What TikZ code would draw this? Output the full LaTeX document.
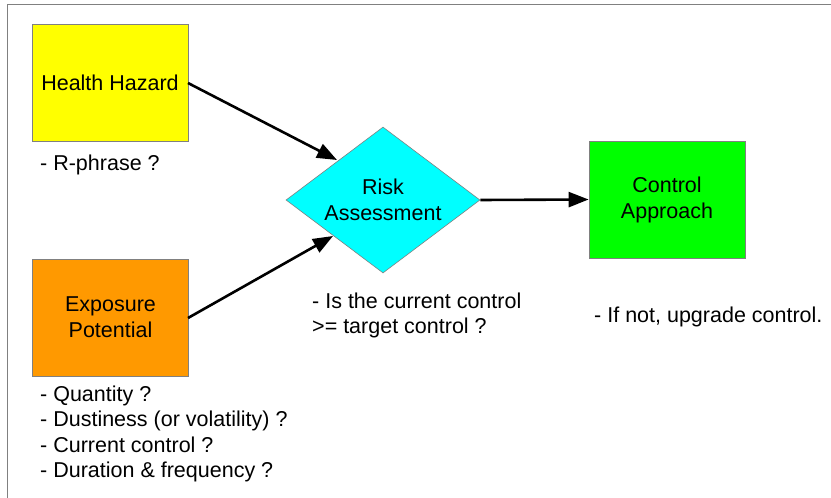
\documentclass[tikz,border=0pt]{standalone}
\usepackage{fontspec}
\setmainfont{Liberation Sans}
\usetikzlibrary{arrows.meta,shapes.geometric}
\definecolor{hzyellow}{HTML}{FFFF00}
\definecolor{exorange}{HTML}{FF9900}
\definecolor{rkcyan}{HTML}{00FFFF}
\definecolor{ctgreen}{HTML}{00FF00}
\definecolor{edgegray}{HTML}{808080}
\begin{document}
\begin{tikzpicture}[x=1pt,y=-1pt,
  boxstyle/.style={draw=edgegray,line width=0.8pt,minimum width=156pt,minimum height=117pt,inner sep=0pt,align=center,font=\fontsize{21.5}{26}\selectfont},
  notestyle/.style={anchor=west,align=left,inner sep=0pt,font=\fontsize{21.5}{25.4}\selectfont},
  arrowstyle/.style={line width=2.6pt,-{Triangle[length=20pt,width=15pt]}}]
\useasboundingbox (0,0) rectangle (831,498);
\fill[white] (0,0) rectangle (831,498);
\draw[edgegray,line width=1.2pt] (831,4.5) -- (7.5,4.5) -- (7.5,498);
\node[boxstyle,fill=hzyellow] (hh) at (110,82.5) {Health Hazard};
\node[boxstyle,fill=exorange] (ep) at (110.5,317.5) {Exposure\\Potential};
\node[draw=edgegray,line width=0.6pt,fill=rkcyan,diamond,aspect=1.33,minimum width=194pt,minimum height=146pt,inner sep=0pt,align=center,font=\fontsize{21.5}{26}\selectfont] (ra) at (383,200) {Risk\\Assessment};
\node[boxstyle,fill=ctgreen] (ca) at (667,199.5) {Control\\Approach};
\coordinate (hhout) at (188,83);
\coordinate (epout) at (188,318);
\coordinate (rain1) at (337,160);
\coordinate (rain2) at (333,236);
\draw[arrowstyle] (hhout) -- (rain1);
\draw[arrowstyle] (epout) -- (rain2);
\draw[arrowstyle] (ra.east) -- (ca.west);
\node[notestyle] (n1) at (40,165) {- R-phrase ?};
\node[notestyle] (n2) at (312,315.5) {- Is the current control\\>= target control ?};
\node[notestyle] (n3) at (594,317) {- If not, upgrade control.};
\node[notestyle] (n4) at (40,434) {- Quantity ?\\- Dustiness (or volatility) ?\\- Current control ?\\- Duration \& frequency ?};
\end{tikzpicture}
\end{document}
